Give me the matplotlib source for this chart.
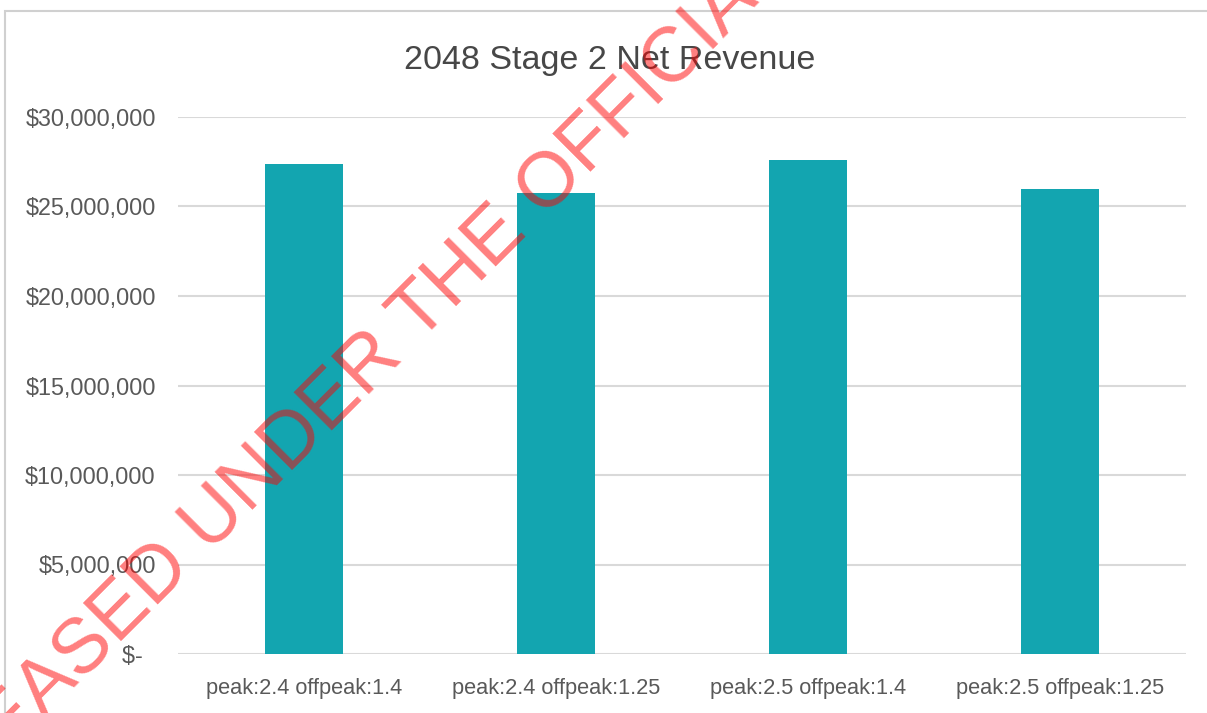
import matplotlib
matplotlib.use("Agg")
import matplotlib.pyplot as plt
from matplotlib.patches import Rectangle
import numpy as np

categories = ["peak:2.4 offpeak:1.4", "peak:2.4 offpeak:1.25",
              "peak:2.5 offpeak:1.4", "peak:2.5 offpeak:1.25"]
net_revenue = [27_350_000, 25_780_000, 27_620_000, 26_000_000]
ytick_values = [0, 5_000_000, 10_000_000, 15_000_000, 20_000_000, 25_000_000, 30_000_000]
ytick_labels = ["$-  ", "$5,000,000", "$10,000,000", "$15,000,000",
                "$20,000,000", "$25,000,000", "$30,000,000"]
title = "2048 Stage 2 Net Revenue"
watermark = "RELEASED UNDER THE OFFICIAL INFORMATION ACT"

plt.rcParams['font.family'] = ['Liberation Sans', 'DejaVu Sans']
W, H = 1207, 713
fig = plt.figure(figsize=(W / 100, H / 100), dpi=100)
fig.patch.set_facecolor("white")

# chart frame
fig.patches.append(Rectangle((5 / W, -0.05), 1.2, 1 - 11 / H + 0.05,
                             transform=fig.transFigure, fill=False,
                             edgecolor="#D0D0D0", linewidth=1.5))

ax = fig.add_axes([178 / W, 1 - 654 / H, (1186 - 178) / W, (654 - 117) / H])
x = np.arange(len(categories))
ax.bar(x, net_revenue, width=0.31, color="#13A5B0", zorder=3)
ax.set_xlim(-0.5, len(categories) - 0.5)
ax.set_ylim(0, 30_000_000)
ax.set_yticks(ytick_values)
ax.set_yticklabels(ytick_labels)
ax.set_xticks(x)
ax.set_xticklabels(categories)
ax.tick_params(axis="both", length=0, colors="#595959")
ax.tick_params(axis="y", pad=16, labelsize=16.8)
ax.tick_params(axis="x", pad=17, labelsize=15.7)
ax.grid(axis="y", color="#D9D9D9", linewidth=1.5, zorder=0)
for s in ax.spines.values():
    s.set_visible(False)

fig.text(610 / W, 1 - 69 / H, title, ha="center", va="baseline",
         fontsize=24.5, color="#474747")

# watermark
fig.text(-100 / W, 1 - 862 / H, watermark, ha="left", va="baseline",
         rotation=45, rotation_mode="anchor", fontsize=56,
         color="#FF0000", alpha=0.5, transform=fig.transFigure, zorder=10)

fig.savefig("out.png", dpi=100)
